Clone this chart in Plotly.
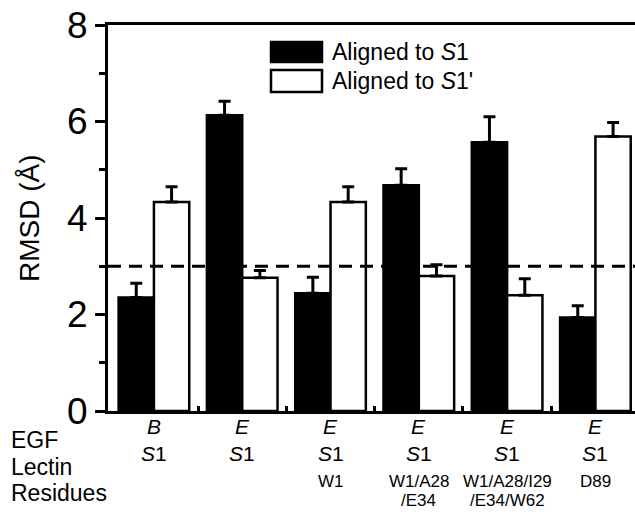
import plotly.graph_objects as go

groups = [1, 2, 3, 4, 5, 6]
egf = ["B", "E", "E", "E", "E", "E"]
lectin = ["S1", "S1", "S1", "S1", "S1", "S1"]
residues = ["", "", "W1", "W1/A28\n/E34", "W1/A28/I29\n/E34/W62", "D89"]
s1_vals = [2.35, 6.13, 2.44, 4.68, 5.57, 1.94]
s1_err = [0.30, 0.29, 0.33, 0.34, 0.53, 0.24]
s1p_vals = [4.33, 2.76, 4.33, 2.80, 2.40, 5.69]
s1p_err = [0.32, 0.15, 0.32, 0.23, 0.34, 0.29]
threshold = 3
row_names = ["EGF", "Lectin", "Residues"]
legend_names = ["Aligned to <i>S</i>1", "Aligned to <i>S</i>1'"]

FONT = "Liberation Sans, Arial, sans-serif"
W, H = 635, 522
ML, MR, MT, MB = 108, 0, 25, 111
PW, PH = W - ML - MR, H - MT - MB

def px_x(p):
    return (p - ML) / PW

def px_y(p):
    return (H - MB - p) / PH

fig = go.Figure()
fig.add_trace(go.Bar(
    x=groups, y=s1_vals, name=legend_names[0],
    marker=dict(color="black", line=dict(color="black", width=2.5)),
    error_y=dict(type="data", symmetric=False, array=s1_err,
                 arrayminus=[0] * len(s1_err), color="black",
                 thickness=3, width=6),
    showlegend=False,
))
fig.add_trace(go.Bar(
    x=groups, y=s1p_vals, name=legend_names[1],
    marker=dict(color="white", line=dict(color="black", width=2.5)),
    error_y=dict(type="data", symmetric=False, array=s1p_err,
                 arrayminus=[0] * len(s1p_err), color="black",
                 thickness=3, width=6),
    showlegend=False,
))

shapes = [dict(type="line", xref="paper", x0=0, x1=1, yref="y",
               y0=threshold, y1=threshold,
               line=dict(color="black", width=3, dash="13px,8px"))]

annotations = []
# legend (manual)
sw = [(42, 62, "black"), (70, 92, "white")]
text_y = [52, 81]
for (y0, y1, col), ty, name in zip(sw, text_y, legend_names):
    shapes.append(dict(type="rect", xref="paper", yref="paper",
                       x0=px_x(271), x1=px_x(322), y0=px_y(y1), y1=px_y(y0),
                       fillcolor=col, line=dict(color="black", width=2.5)))
    annotations.append(dict(xref="paper", yref="paper", x=px_x(330), y=px_y(ty),
                            text=name, showarrow=False, xanchor="left",
                            yanchor="middle",
                            font=dict(size=23, family=FONT, color="black")))

row_y = [440, 467, 493]
for name, ry in zip(row_names, row_y):
    annotations.append(dict(xref="paper", yref="paper", x=px_x(9), y=px_y(ry),
                            text=name, showarrow=False, xanchor="left",
                            yanchor="middle",
                            font=dict(size=23, family=FONT, color="black")))

for g, e, l, r in zip(groups, egf, lectin, residues):
    annotations.append(dict(xref="x", yref="paper", x=g, y=px_y(row_y[0]),
                            text=f"<i>{e}</i>", showarrow=False,
                            font=dict(size=21, family=FONT, color="black")))
    annotations.append(dict(xref="x", yref="paper", x=g, y=px_y(row_y[1]),
                            text=f"<i>{l[0]}</i>{l[1:]}", showarrow=False,
                            font=dict(size=21, family=FONT, color="black")))
    for i, line in enumerate(r.split("\n")):
        if line:
            annotations.append(dict(xref="x", yref="paper", x=g,
                                    y=px_y(row_y[2] + 19 * i), text=line,
                                    showarrow=False,
                                    font=dict(size=17, family=FONT, color="black")))

annotations.append(dict(xref="paper", yref="paper", x=px_x(29), y=px_y(218),
                        text="RMSD (Å)", textangle=-90, showarrow=False,
                        xanchor="center", yanchor="middle",
                        font=dict(size=28, family=FONT, color="black")))

fig.update_layout(
    width=W, height=H,
    margin=dict(l=ML, r=MR, t=MT, b=MB, pad=0),
    paper_bgcolor="white", plot_bgcolor="white",
    barmode="group", bargap=0.2, bargroupgap=0,
    font=dict(family=FONT, color="black"),
    shapes=shapes, annotations=annotations,
)
fig.update_xaxes(
    range=[0.48, 0.48 + PW / 88.3],
    showgrid=False, zeroline=False,
    showline=True, linecolor="black", linewidth=3, mirror=True,
    tickvals=[1.5, 2.5, 3.5, 4.5, 5.5], ticks="inside", ticklen=5,
    tickwidth=2.5, tickcolor="black", showticklabels=False,
)
fig.update_yaxes(
    range=[0, 8],
    showgrid=False, zeroline=False,
    showline=True, linecolor="black", linewidth=3, mirror=False,
    tickvals=[0, 2, 4, 6, 8], ticks="outside", ticklen=10, tickwidth=2.5,
    tickcolor="black",
    tickfont=dict(size=37, family=FONT, color="black"),
    minor=dict(tickvals=[1, 3, 5, 7], ticks="outside", ticklen=6,
               tickwidth=2.5, tickcolor="black"),
)

fig.write_html("out.html")
